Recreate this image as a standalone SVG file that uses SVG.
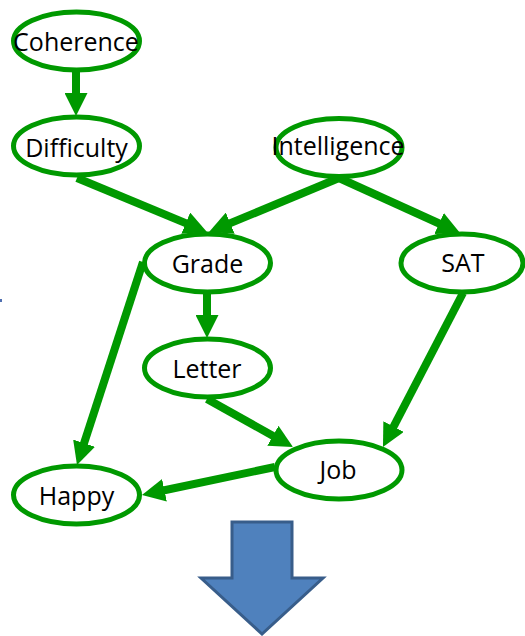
<svg xmlns="http://www.w3.org/2000/svg" width="525" height="636" viewBox="0 0 525 636">
  <style>
    .node ellipse { fill: #ffffff; stroke: #009900; stroke-width: 5; }
    .node text { font-family: "Open Sans", "Liberation Sans", sans-serif; font-size: 25px; fill: #000000; text-anchor: middle; }
    .edge { stroke: #009900; stroke-width: 8; fill: none; marker-end: url(#head); }
  </style>
  <defs>
    <marker id="head" markerUnits="userSpaceOnUse" viewBox="0 0 23 23" markerWidth="23" markerHeight="23" refX="11" refY="11.5" orient="auto">
      <path d="M0,0 L23,11.5 L0,23 z" fill="#009900"/>
    </marker>
  </defs>

  <!-- connectors -->
  <g id="edges">
    <line class="edge" x1="76" y1="71" x2="76" y2="104"/>
    <line class="edge" x1="77" y1="178" x2="195.9" y2="227.4"/>
    <line class="edge" x1="339" y1="178" x2="220.1" y2="227.4"/>
    <line class="edge" x1="339" y1="178" x2="449.1" y2="228"/>
    <line class="edge" x1="207" y1="292" x2="207" y2="326"/>
    <line class="edge" x1="143" y1="262" x2="80.7" y2="453.6"/>
    <line class="edge" x1="207" y1="399" x2="282.5" y2="441.2"/>
    <line class="edge" x1="463" y1="293" x2="388.5" y2="436.3"/>
    <line class="edge" x1="275" y1="467" x2="153.7" y2="492.5"/>
  </g>

  <!-- nodes -->
  <g id="coherence" class="node">
    <ellipse cx="76.5" cy="41" rx="63" ry="29"/>
    <text x="76" y="51">Coherence</text>
  </g>
  <g id="difficulty" class="node">
    <ellipse cx="76.5" cy="146" rx="63" ry="29"/>
    <text x="76.5" y="157">Difficulty</text>
  </g>
  <g id="intelligence" class="node">
    <ellipse cx="339" cy="147.5" rx="63" ry="29"/>
    <text x="338" y="155">Intelligence</text>
  </g>
  <g id="grade" class="node">
    <ellipse cx="207.5" cy="263" rx="63" ry="29"/>
    <text x="207.5" y="273">Grade</text>
  </g>
  <g id="sat" class="node">
    <ellipse cx="462" cy="263" rx="61" ry="29"/>
    <text x="463" y="272">SAT</text>
  </g>
  <g id="letter" class="node">
    <ellipse cx="207.5" cy="368" rx="63" ry="29"/>
    <text x="207" y="378">Letter</text>
  </g>
  <g id="job" class="node">
    <ellipse cx="339" cy="470" rx="63" ry="29"/>
    <text x="338" y="479">Job</text>
  </g>
  <g id="happy" class="node">
    <ellipse cx="76.5" cy="495" rx="63" ry="29"/>
    <text x="76.5" y="505">Happy</text>
  </g>

  <!-- block arrow pointing down -->
  <g id="down-arrow">
    <path d="M232,522 L292,522 L292,578 L323,578 L262,634 L201,578 L232,578 z" fill="#4f81bd" stroke="#385d8a" stroke-width="3" stroke-linejoin="miter"/>
  </g>

  <!-- small mark at the left edge -->
  <rect x="0" y="299" width="2" height="3" fill="#4f6fb0"/>
</svg>
